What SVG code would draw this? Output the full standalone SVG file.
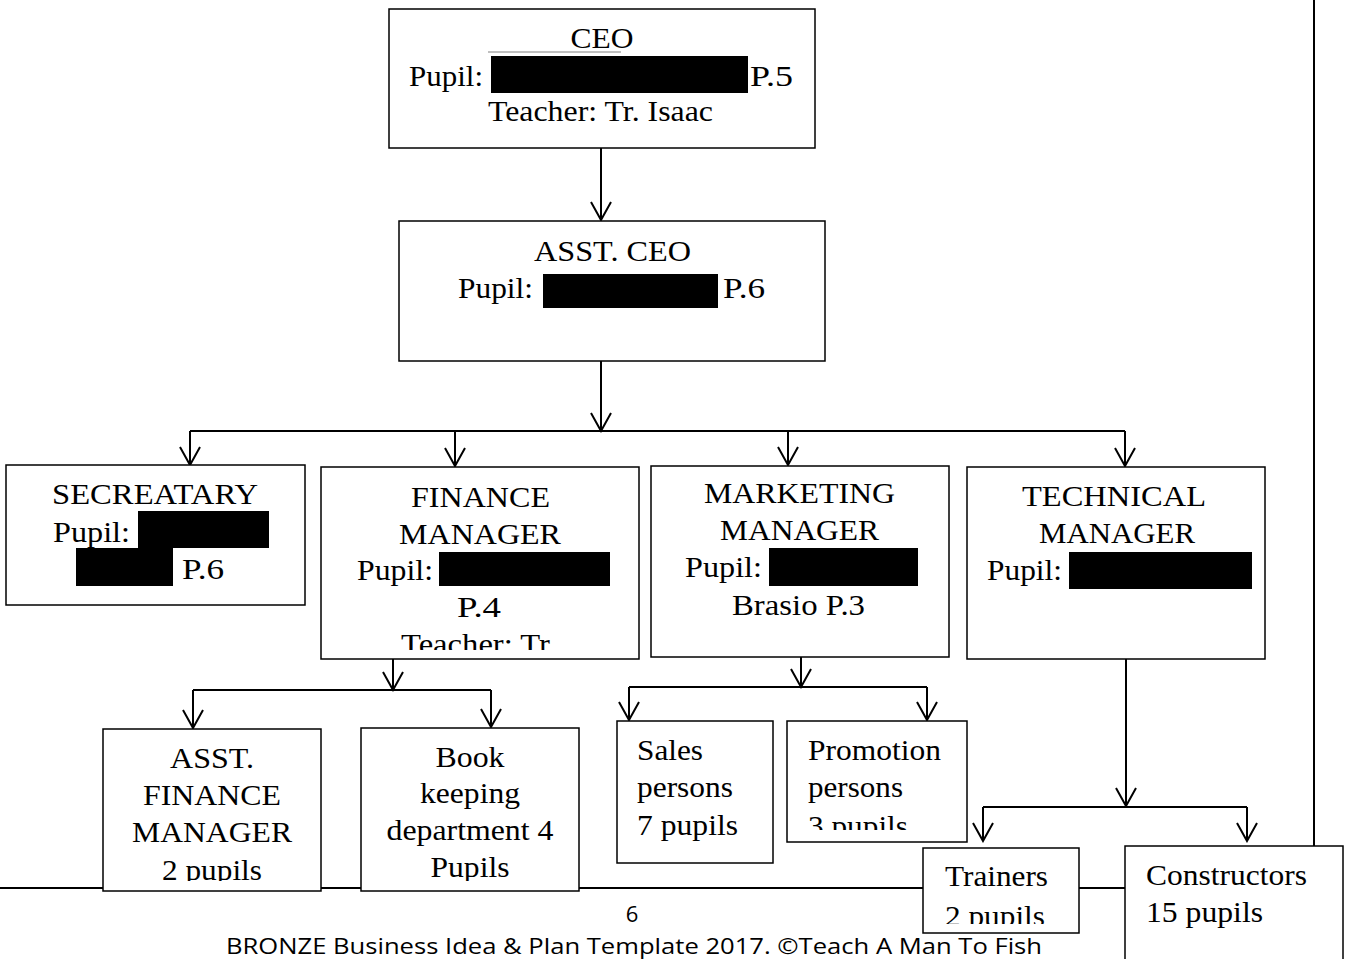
<svg xmlns="http://www.w3.org/2000/svg" width="1347" height="959" viewBox="0 0 1347 959">
<style>
.box{fill:#fff;stroke:#000;stroke-width:1.5}
.red{fill:#000}
.t{font-family:"Liberation Serif","Times New Roman",serif;font-size:29.5px;fill:#000}
.m{text-anchor:middle}
.c{fill:none;stroke:#000;stroke-width:2}
.f{font-family:"Open Sans","Noto Sans","Liberation Sans",sans-serif;font-size:22px;fill:#000}
</style>
<defs>
<marker id="ah" markerUnits="userSpaceOnUse" viewBox="-20 -12 22 24" refX="0" refY="0" markerWidth="22" markerHeight="24" orient="auto">
<path d="M-18,-10 L0,0 L-18,10" fill="none" stroke="#000" stroke-width="2"/>
</marker>
<clipPath id="cpFin"><rect x="321" y="468" width="318" height="182"/></clipPath>
<clipPath id="cpAF"><rect x="103" y="729" width="218" height="152"/></clipPath>
<clipPath id="cpBK"><rect x="361" y="728" width="218" height="153"/></clipPath>
<clipPath id="cpPr"><rect x="787" y="721" width="180" height="109"/></clipPath>
<clipPath id="cpTr"><rect x="923" y="848" width="156" height="76"/></clipPath>
</defs>

<g id="page">
<line x1="0" y1="888" x2="1125" y2="888" stroke="#000" stroke-width="2"/>
<line x1="1314" y1="0" x2="1314" y2="846" stroke="#000" stroke-width="2"/>
<text class="f m" x="632" y="922">6</text>
<text class="f" x="226" y="954" textLength="816" lengthAdjust="spacingAndGlyphs">BRONZE Business Idea &amp; Plan Template 2017. ©Teach A Man To Fish</text>
</g>

<g id="connectors">
<line class="c" x1="601" y1="148" x2="601" y2="220" marker-end="url(#ah)"/>
<line class="c" x1="601" y1="361" x2="601" y2="431" marker-end="url(#ah)"/>
<line class="c" x1="190" y1="431" x2="1125" y2="431"/>
<line class="c" x1="190" y1="431" x2="190" y2="465" marker-end="url(#ah)"/>
<line class="c" x1="455" y1="431" x2="455" y2="466" marker-end="url(#ah)"/>
<line class="c" x1="788" y1="431" x2="788" y2="465" marker-end="url(#ah)"/>
<line class="c" x1="1125" y1="431" x2="1125" y2="466" marker-end="url(#ah)"/>
<line class="c" x1="393" y1="659" x2="393" y2="690" marker-end="url(#ah)"/>
<line class="c" x1="193" y1="690" x2="491" y2="690"/>
<line class="c" x1="193" y1="690" x2="193" y2="728" marker-end="url(#ah)"/>
<line class="c" x1="491" y1="690" x2="491" y2="727" marker-end="url(#ah)"/>
<line class="c" x1="801" y1="657" x2="801" y2="687" marker-end="url(#ah)"/>
<line class="c" x1="629" y1="687" x2="927" y2="687"/>
<line class="c" x1="629" y1="687" x2="629" y2="720" marker-end="url(#ah)"/>
<line class="c" x1="927" y1="687" x2="927" y2="720" marker-end="url(#ah)"/>
<line class="c" x1="1126" y1="659" x2="1126" y2="806" marker-end="url(#ah)"/>
<line class="c" x1="983" y1="807" x2="1247" y2="807"/>
<line class="c" x1="983" y1="807" x2="983" y2="841" marker-end="url(#ah)"/>
<line class="c" x1="1247" y1="807" x2="1247" y2="841" marker-end="url(#ah)"/>
</g>

<g id="ceo">
<rect class="box" x="389" y="9" width="426" height="139"/>
<text class="t m" x="602" y="48" textLength="63" lengthAdjust="spacingAndGlyphs">CEO</text>
<line x1="488" y1="52" x2="621" y2="52" stroke="#808080" stroke-width="1"/>
<text class="t" x="409" y="86" textLength="74" lengthAdjust="spacingAndGlyphs">Pupil:</text>
<rect class="red" x="491" y="56" width="257" height="37"/>
<text class="t" x="750" y="86" textLength="43" lengthAdjust="spacingAndGlyphs">P.5</text>
<text class="t" x="488" y="121" textLength="225" lengthAdjust="spacingAndGlyphs">Teacher: Tr. Isaac</text>
</g>

<g id="asst-ceo">
<rect class="box" x="399" y="221" width="426" height="140"/>
<text class="t" x="534" y="261" textLength="157" lengthAdjust="spacingAndGlyphs">ASST. CEO</text>
<text class="t" x="458" y="298" textLength="75" lengthAdjust="spacingAndGlyphs">Pupil:</text>
<rect class="red" x="543" y="274" width="175" height="34"/>
<text class="t" x="723" y="298" textLength="42" lengthAdjust="spacingAndGlyphs">P.6</text>
</g>

<g id="secretary">
<rect class="box" x="6" y="465" width="299" height="140"/>
<text class="t" x="52" y="504" textLength="206" lengthAdjust="spacingAndGlyphs">SECREATARY</text>
<text class="t" x="53" y="542" textLength="77" lengthAdjust="spacingAndGlyphs">Pupil:</text>
<rect class="red" x="138" y="511" width="131" height="37"/>
<rect class="red" x="76" y="548" width="97" height="38"/>
<text class="t" x="182" y="579" textLength="42" lengthAdjust="spacingAndGlyphs">P.6</text>
</g>

<g id="finance-manager">
<rect class="box" x="321" y="467" width="318" height="192"/>
<g clip-path="url(#cpFin)">
<text class="t" x="411" y="507" textLength="139" lengthAdjust="spacingAndGlyphs">FINANCE</text>
<text class="t" x="399" y="544" textLength="162" lengthAdjust="spacingAndGlyphs">MANAGER</text>
<text class="t" x="357" y="580" textLength="76" lengthAdjust="spacingAndGlyphs">Pupil:</text>
<rect class="red" x="439" y="552" width="171" height="34"/>
<text class="t m" x="479" y="617" textLength="44" lengthAdjust="spacingAndGlyphs">P.4</text>
<text class="t" x="401" y="654" textLength="149" lengthAdjust="spacingAndGlyphs">Teacher: Tr</text>
</g>
</g>

<g id="marketing-manager">
<rect class="box" x="651" y="466" width="298" height="191"/>
<text class="t" x="704" y="503" textLength="191" lengthAdjust="spacingAndGlyphs">MARKETING</text>
<text class="t" x="720" y="540" textLength="159" lengthAdjust="spacingAndGlyphs">MANAGER</text>
<text class="t" x="685" y="577" textLength="77" lengthAdjust="spacingAndGlyphs">Pupil:</text>
<rect class="red" x="769" y="548" width="149" height="38"/>
<text class="t" x="732" y="615" textLength="133" lengthAdjust="spacingAndGlyphs">Brasio P.3</text>
</g>

<g id="technical-manager">
<rect class="box" x="967" y="467" width="298" height="192"/>
<text class="t m" x="1114" y="506" textLength="184" lengthAdjust="spacingAndGlyphs">TECHNICAL</text>
<text class="t m" x="1117" y="543" textLength="156" lengthAdjust="spacingAndGlyphs">MANAGER</text>
<text class="t" x="987" y="580" textLength="75" lengthAdjust="spacingAndGlyphs">Pupil:</text>
<rect class="red" x="1069" y="552" width="183" height="37"/>
</g>

<g id="asst-finance-manager">
<rect class="box" x="103" y="729" width="218" height="162"/>
<g clip-path="url(#cpAF)">
<text class="t m" x="212" y="768" textLength="84" lengthAdjust="spacingAndGlyphs">ASST.</text>
<text class="t m" x="212" y="805" textLength="138" lengthAdjust="spacingAndGlyphs">FINANCE</text>
<text class="t m" x="212" y="842" textLength="160" lengthAdjust="spacingAndGlyphs">MANAGER</text>
<text class="t m" x="212" y="880" textLength="100" lengthAdjust="spacingAndGlyphs">2 pupils</text>
</g>
</g>

<g id="book-keeping">
<rect class="box" x="361" y="728" width="218" height="163"/>
<g clip-path="url(#cpBK)">
<text class="t m" x="470" y="767" textLength="69" lengthAdjust="spacingAndGlyphs">Book</text>
<text class="t m" x="470" y="803" textLength="100" lengthAdjust="spacingAndGlyphs">keeping</text>
<text class="t m" x="470" y="840" textLength="167" lengthAdjust="spacingAndGlyphs">department 4</text>
<text class="t m" x="470" y="877" textLength="79" lengthAdjust="spacingAndGlyphs">Pupils</text>
</g>
</g>

<g id="sales-persons">
<rect class="box" x="617" y="721" width="156" height="142"/>
<text class="t" x="637" y="760" textLength="66" lengthAdjust="spacingAndGlyphs">Sales</text>
<text class="t" x="637" y="797" textLength="96" lengthAdjust="spacingAndGlyphs">persons</text>
<text class="t" x="637" y="835" textLength="101" lengthAdjust="spacingAndGlyphs">7 pupils</text>
</g>

<g id="promotion-persons">
<rect class="box" x="787" y="721" width="180" height="121"/>
<g clip-path="url(#cpPr)">
<text class="t" x="808" y="760" textLength="133" lengthAdjust="spacingAndGlyphs">Promotion</text>
<text class="t" x="808" y="797" textLength="95" lengthAdjust="spacingAndGlyphs">persons</text>
<text class="t" x="808" y="836" textLength="100" lengthAdjust="spacingAndGlyphs">3 pupils</text>
</g>
</g>

<g id="trainers">
<rect class="box" x="923" y="848" width="156" height="85"/>
<g clip-path="url(#cpTr)">
<text class="t" x="945" y="886" textLength="103" lengthAdjust="spacingAndGlyphs">Trainers</text>
<text class="t" x="945" y="926" textLength="100" lengthAdjust="spacingAndGlyphs">2 pupils</text>
</g>
</g>

<g id="constructors">
<rect class="box" x="1125" y="846" width="218" height="130"/>
<text class="t" x="1146" y="885" textLength="161" lengthAdjust="spacingAndGlyphs">Constructors</text>
<text class="t" x="1146" y="922" textLength="117" lengthAdjust="spacingAndGlyphs">15 pupils</text>
</g>
</svg>
